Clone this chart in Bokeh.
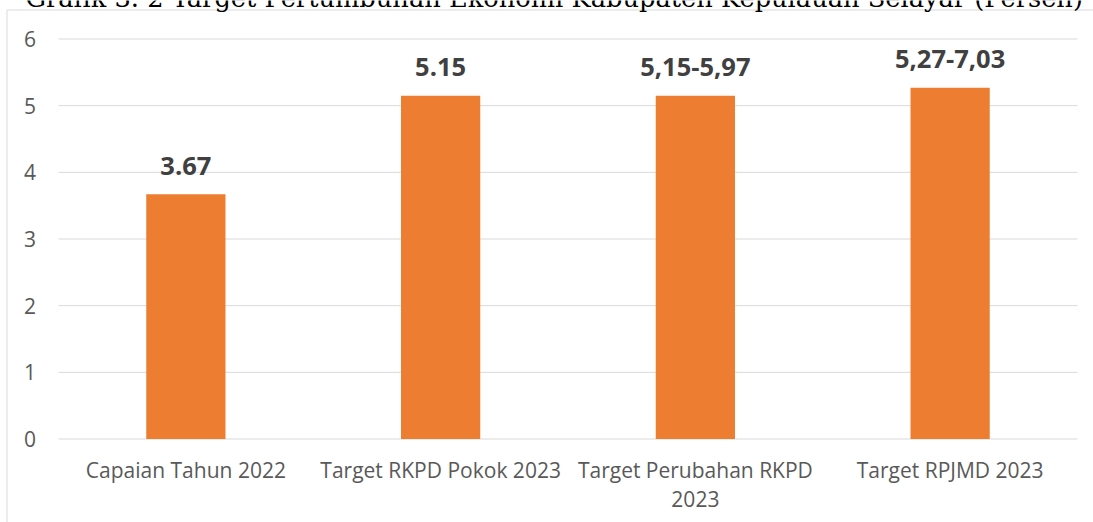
from bokeh.plotting import figure
from bokeh.models import ColumnDataSource, Range1d
from bokeh.core.properties import value
from bokeh.embed import file_html
from bokeh.resources import INLINE

# ---- data -------------------------------------------------------------
categories = ["Capaian Tahun 2022", "Target RKPD Pokok 2023",
              "Target Perubahan RKPD 2023", "Target RPJMD 2023"]
values = [3.67, 5.15, 5.15, 5.27]
value_labels = ["3.67", "5.15", "5,15-5,97", "5,27-7,03"]
y_ticks = [0, 1, 2, 3, 4, 5, 6]
# how each category label is wrapped on the axis
category_lines = [["Capaian Tahun 2022"], ["Target RKPD Pokok 2023"],
                  ["Target Perubahan RKPD", "2023"], ["Target RPJMD 2023"]]
title_text = "Grafik 3. 2 Target Pertumbuhan Ekonomi Kabupaten Kepulauan Selayar (Persen)"

# ---- layout (pixels) --------------------------------------------------
W, H = 1093, 522
PLOT_L, PLOT_R = 58.0, 1077.0      # plot area left/right
Y0_PX, Y6_PX = 438.5, 38.5         # pixel rows of y=0 and y=6
n = len(categories)
px_per_x = (PLOT_R - PLOT_L) / n
px_per_y = (Y0_PX - Y6_PX) / 6.0

def dx(px):
    return (px - PLOT_L) / px_per_x

def dy(py):
    return (Y0_PX - py) / px_per_y

p = figure(x_range=Range1d(dx(0), dx(W)), y_range=Range1d(dy(H), dy(0)),
           width=W, height=H, output_backend="svg", toolbar_location=None,
           x_axis_location=None, y_axis_location=None,
           min_border_left=0, min_border_right=0, min_border_top=0, min_border_bottom=0)
p.background_fill_color = "white"
p.border_fill_color = "white"
p.outline_line_color = None
p.grid.visible = False

FONT = value("Open Sans")
GRID = "#D9D9D9"
TICK_COLOR = "#595959"

# chart area border (left and top edges)
p.line(x=[dx(6.5), dx(6.5), dx(W + 20)], y=[dy(H + 20), dy(9.5), dy(9.5)],
       line_color=GRID, line_width=1)

# horizontal gridlines (the one at 0 doubles as category axis line)
p.segment(x0=[0] * len(y_ticks), x1=[n] * len(y_ticks), y0=y_ticks, y1=y_ticks,
          line_color=GRID, line_width=1)

# bars
centers = [i + 0.5 for i in range(n)]
src = ColumnDataSource(dict(x=centers, val=values, lab=value_labels))
p.vbar(x="x", top="val", bottom=0, width=0.311, source=src,
       fill_color="#ED7D31", line_color=None)

# data labels
p.text(x="x", y="val", text="lab", source=src, y_offset=-28.5,
       text_align="center", text_baseline="middle",
       text_font=FONT, text_font_style="bold",
       text_font_size="25.5px", text_color="#404040")

# y tick labels
p.text(x=[dx(35.5)] * len(y_ticks), y=y_ticks, text=[str(t) for t in y_ticks],
       text_align="right", text_baseline="middle",
       text_font=FONT, text_font_size="21px", text_color=TICK_COLOR)

# x category labels (possibly wrapped)
lx, ly, lt = [], [], []
for c, lines in zip(centers, category_lines):
    for k, line in enumerate(lines):
        lx.append(c)
        ly.append(dy(469 + 29 * k))
        lt.append(line)
p.text(x=lx, y=ly, text=lt, text_align="center", text_baseline="middle",
       text_font=FONT, text_font_size="21px", text_color=TICK_COLOR)

# document caption above the chart (cut off at the top edge, as in the source)
p.text(x=[dx(25)], y=[dy(-2.9)], text=[title_text], text_align="left",
       text_baseline="middle", text_font=value("DejaVu Serif"),
       text_font_size="25.7px", text_color="#000000")

open("out.html", "w").write(file_html(p, INLINE))
